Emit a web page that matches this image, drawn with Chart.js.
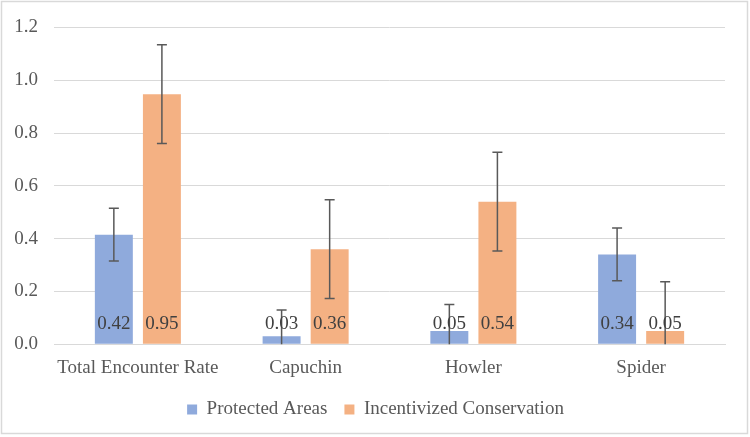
<!DOCTYPE html>
<html>
<head>
<meta charset="utf-8">
<script src="https://cdn.jsdelivr.net/npm/chart.js@4.4.0/dist/chart.umd.min.js"></script>
<style>
  html, body { margin: 0; padding: 0; background: #fff; }
  #wrap { position: relative; width: 750px; height: 437px; }
</style>
</head>
<body>
<div id="wrap"><canvas id="chart" width="750" height="437"></canvas></div>
<script>
// values
const categories = ['Total Encounter Rate', 'Capuchin', 'Howler', 'Spider'];
const protectedAreas = [0.415, 0.03, 0.05, 0.34];
const incentivized = [0.947, 0.36, 0.54, 0.05];
const protectedErr = [0.10, 0.10, 0.10, 0.10];
const incentivizedErr = [0.187, 0.187, 0.187, 0.187];
const protectedLabels = ['0.42', '0.03', '0.05', '0.34'];
const incentivizedLabels = ['0.95', '0.36', '0.54', '0.05'];
const yTicks = ['0.0', '0.2', '0.4', '0.6', '0.8', '1.0', '1.2'];

const FONT = '"Liberation Serif", "Times New Roman", serif';
const TEXT = '#595959';

// outer frame like the office chart border
const framePlugin = {
    id: 'frame',
    beforeDraw(chart) {
        const ctx = chart.ctx;
        ctx.save();
        ctx.fillStyle = '#fff';
        ctx.fillRect(0, 0, chart.width, chart.height);
        ctx.strokeStyle = '#d9d9d9';
        ctx.lineWidth = 1.5;
        ctx.strokeRect(1.5, 1.5, chart.width - 4, chart.height - 5);
        ctx.restore();
    },
    // legend is centred on the whole canvas in the original, not on width minus right padding
    afterLayout(chart) {
        chart.legend.left += 13;
        chart.legend.right += 13;
    }
};

// error bars + value labels at bar base
const extrasPlugin = {
    id: 'extras',
    afterDatasetsDraw(chart) {
        const ctx = chart.ctx;
        const y = chart.scales.y;
        const errs = [protectedErr, incentivizedErr];
        const labels = [protectedLabels, incentivizedLabels];
        ctx.save();
        chart.data.datasets.forEach((ds, di) => {
            const meta = chart.getDatasetMeta(di);
            meta.data.forEach((bar, i) => {
                const v = ds.data[i];
                const e = errs[di][i];
                const top = y.getPixelForValue(v + e);
                const bot = y.getPixelForValue(Math.max(v - e, y.min));
                ctx.strokeStyle = '#595959';
                ctx.lineWidth = 1.5;
                ctx.beginPath();
                ctx.moveTo(bar.x, top); ctx.lineTo(bar.x, bot);
                ctx.moveTo(bar.x - 5, top); ctx.lineTo(bar.x + 5, top);
                if (v - e > y.min) { ctx.moveTo(bar.x - 5, bot); ctx.lineTo(bar.x + 5, bot); }
                ctx.stroke();

                ctx.fillStyle = '#404040';
                ctx.font = '19px ' + FONT;
                ctx.textAlign = 'center';
                ctx.textBaseline = 'middle';
                ctx.fillText(labels[di][i], bar.x, y.getPixelForValue(0) - 20);
            });
        });
        ctx.restore();
    }
};

new Chart(document.getElementById('chart'), {
    type: 'bar',
    data: {
        labels: categories,
        datasets: [
            { label: 'Protected Areas', data: protectedAreas, backgroundColor: '#8faadc',
              categoryPercentage: 0.573, barPercentage: 0.79 },
            { label: 'Incentivized Conservation', data: incentivized, backgroundColor: '#f4b183',
              categoryPercentage: 0.573, barPercentage: 0.79 }
        ]
    },
    options: {
        responsive: false,
        animation: false,
        layout: { padding: { top: 17, right: 25, left: 0, bottom: 8 } },
        scales: {
            y: {
                min: 0, max: 1.2,
                afterFit(scale) { scale.width = 54; },
                border: { display: false },
                grid: { color: '#d9d9d9', lineWidth: 1, drawTicks: false },
                ticks: {
                    stepSize: 0.2, padding: 16, color: TEXT,
                    font: { family: FONT, size: 19 },
                    callback: (val, idx) => yTicks[idx]
                }
            },
            x: {
                border: { color: '#d9d9d9' },
                grid: { display: false },
                ticks: { color: TEXT, padding: 4, font: { family: FONT, size: 19 } }
            }
        },
        plugins: {
            tooltip: { enabled: false },
            legend: {
                position: 'bottom',
                labels: {
                    color: TEXT, font: { family: FONT, size: 19 },
                    boxWidth: 10, boxHeight: 10, padding: 17
                }
            }
        }
    },
    plugins: [framePlugin, extrasPlugin]
});
</script>
</body>
</html>
